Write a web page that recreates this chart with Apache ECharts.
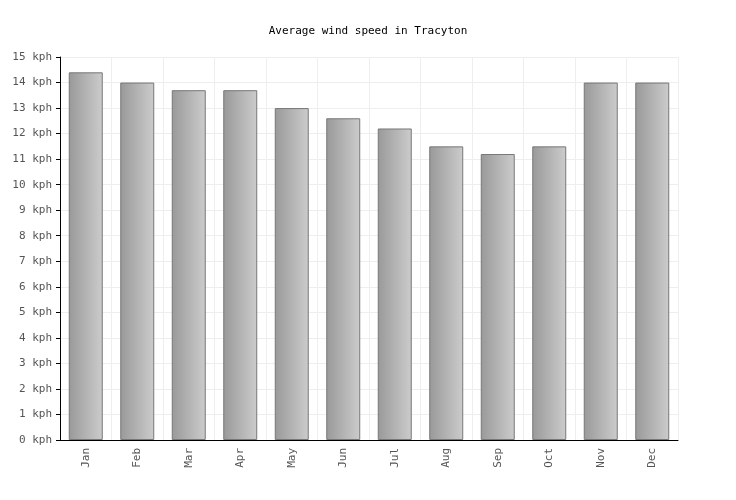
<!DOCTYPE html>
<html><head><meta charset="utf-8">
<script src="https://cdn.jsdelivr.net/npm/echarts@6/dist/echarts.min.js"></script>
<style>html,body{margin:0;padding:0;background:#fff}#c{width:736px;height:500px}</style>
</head><body><div id="c"></div>
<script>
const categories = ['Jan','Feb','Mar','Apr','May','Jun','Jul','Aug','Sep','Oct','Nov','Dec'];
const windSpeed = [14.4, 14.0, 13.7, 13.7, 13.0, 12.6, 12.2, 11.5, 11.2, 11.5, 14.0, 14.0];
const yTicks = {min: 0, max: 15, interval: 1, unit: ' kph'};

const font = 'DejaVu Sans Mono, monospace';
const chart = echarts.init(document.getElementById('c'));
chart.setOption({
  animation: false,
  backgroundColor: '#fff',
  title: {
    text: 'Average wind speed in Tracyton',
    left: 'center', top: 21,
    textStyle: {fontFamily: font, fontSize: 11, fontWeight: 'normal', color: '#000'}
  },
  grid: {left: 60, right: 58, top: 57, bottom: 60, containLabel: false},
  xAxis: {
    type: 'category',
    data: categories,
    boundaryGap: true,
    axisLine: {lineStyle: {color: '#000', width: 1}},
    axisTick: {show: false},
    axisLabel: {rotate: 90, fontFamily: font, fontSize: 11, color: '#555', margin: 8},
    splitLine: {show: true, lineStyle: {color: '#eeeeee', width: 1}}
  },
  yAxis: {
    type: 'value',
    min: yTicks.min, max: yTicks.max, interval: yTicks.interval,
    axisLine: {show: true, lineStyle: {color: '#000', width: 1}},
    axisTick: {show: true, length: 4, lineStyle: {color: '#000'}},
    axisLabel: {fontFamily: font, fontSize: 11, color: '#555', margin: 8,
      formatter: v => v + yTicks.unit},
    splitLine: {show: true, lineStyle: {color: '#eeeeee', width: 1}}
  },
  series: [{
    type: 'bar',
    data: windSpeed,
    barWidth: '66%',
    itemStyle: {
      color: new echarts.graphic.LinearGradient(0, 0, 1, 0, [
        {offset: 0, color: '#999999'},
        {offset: 1, color: '#cccccc'}
      ]),
      borderColor: '#777777',
      borderWidth: 1
    }
  }]
});
</script></body></html>
